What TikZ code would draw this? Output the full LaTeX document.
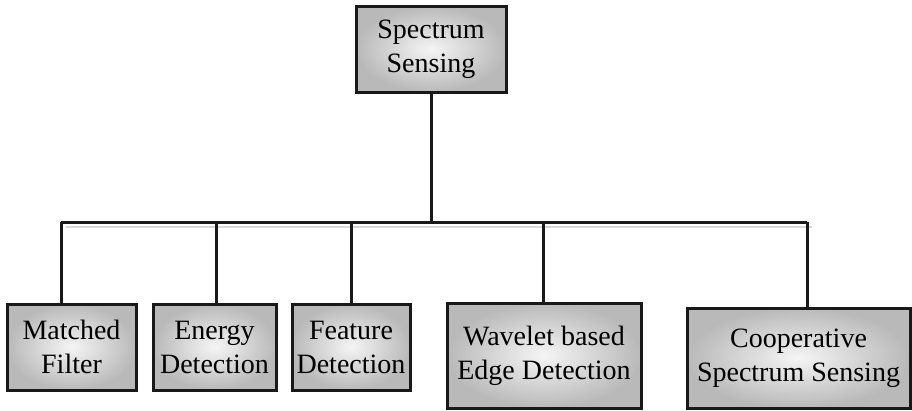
\documentclass[tikz,border=0pt]{standalone}
\usepackage{fontspec}
\setmainfont{Liberation Serif}
\begin{document}
\begin{tikzpicture}[x=1pt,y=-1pt,
  box/.style={draw=black!90, line width=3pt, shading=radial, inner color=gray!8, outer color=gray!55,
    align=center, inner sep=0pt, font=\fontsize{28}{34}\selectfont},
  link/.style={draw=black!90, line width=3pt},
  shadowline/.style={draw=gray!30, line width=2pt}]
\useasboundingbox[fill=white] (0,0) rectangle (912,410);
\node[box, minimum width=150pt, minimum height=86pt] (top) at (431,49) {Spectrum\\Sensing};
\node[box, minimum width=129pt, minimum height=86pt] (mf) at (71.5,347) {Matched\\Filter};
\node[box, minimum width=123pt, minimum height=86pt] (ed) at (214.5,347) {Energy\\Detection};
\node[box, minimum width=118pt, minimum height=86pt] (fd) at (351,347) {Feature\\Detection};
\node[box, minimum width=194pt, minimum height=105pt] (wb) at (544,355.5) {Wavelet based\\Edge Detection};
\node[box, minimum width=223pt, minimum height=100pt] (cs) at (798.5,358) {Cooperative\\Spectrum Sensing};
\coordinate (b1) at (61,222);
\coordinate (b2) at (216,222);
\coordinate (b3) at (351,222);
\coordinate (b4) at (543,222);
\coordinate (b5) at (807,222);
\coordinate (s1) at (66,227);
\coordinate (s2) at (812,227);
\path[shadowline] (s1) -- (s2);
\path[link] (top.south) -- (top.south |- b1);
\path[link] (b1) -- (b5);
\path[link] (b1) -- (b1 |- mf.north);
\path[link] (b2) -- (b2 |- ed.north);
\path[link] (b3) -- (b3 |- fd.north);
\path[link] (b4) -- (b4 |- wb.north);
\path[link] (b5) -- (b5 |- cs.north);
\end{tikzpicture}
\end{document}
